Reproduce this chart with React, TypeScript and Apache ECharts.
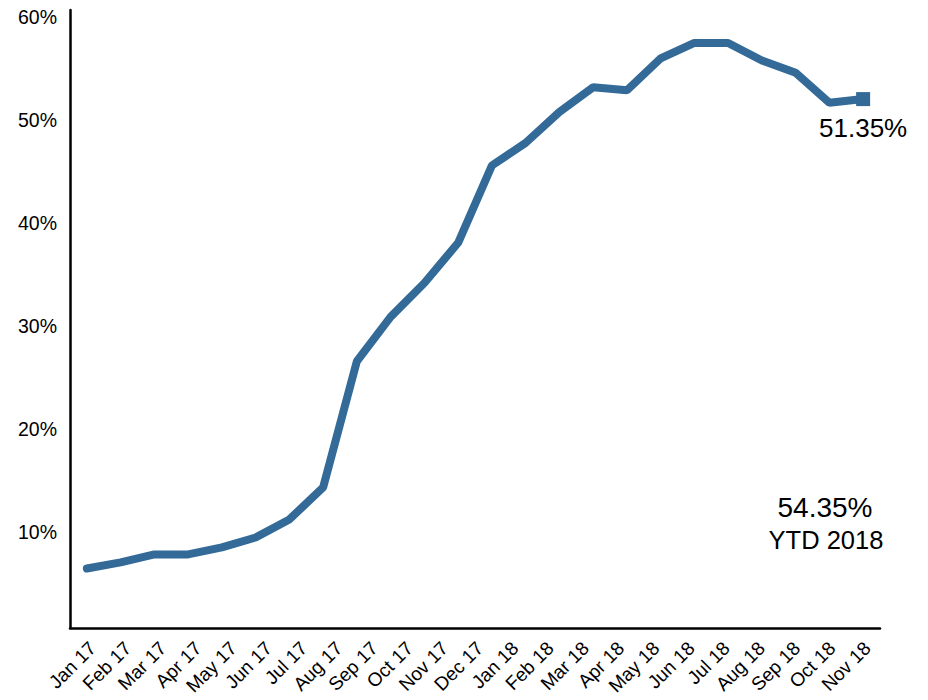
import React, { useEffect, useRef } from "react";
import * as echarts from "echarts";

const tickLabels = [
  "Jan 17", "Feb 17", "Mar 17", "Apr 17", "May 17", "Jun 17", "Jul 17", "Aug 17",
  "Sep 17", "Oct 17", "Nov 17", "Dec 17", "Jan 18", "Feb 18", "Mar 18", "Apr 18",
  "May 18", "Jun 18", "Jul 18", "Aug 18", "Sep 18", "Oct 18", "Nov 18",
];

const pointCategories = [
  "P1", "P2", "P3", "P4", "P5", "P6", "P7", "P8", "P9", "P10", "P11", "P12",
  "P13", "P14", "P15", "P16", "P17", "P18", "P19", "P20", "P21", "P22", "P23", "P24",
];

const shareValues = [
  5.78, 6.37, 7.14, 7.14, 7.82, 8.79, 10.54, 13.65, 25.9, 30.2, 33.5, 37.4,
  44.9, 47.1, 50.1, 52.5, 52.2, 55.3, 56.8, 56.8, 55.1, 53.9, 51.0, 51.35,
];

const lastLabel = "51.35%";
const ytdValue = "54.35%";
const ytdLabel = "YTD 2018";

const FONT = '"Liberation Sans", Arial, sans-serif';
const LINE_COLOR = "#336a98";

export default function App() {
  const ref = useRef<HTMLDivElement>(null);

  useEffect(() => {
    if (!ref.current) return;
    const chart = echarts.init(ref.current, undefined, { renderer: "svg" });
    const lastIdx = shareValues.length - 1;
    const data = shareValues.map((v, i) =>
      i === lastIdx
        ? {
            value: v,
            symbol: "rect",
            symbolSize: 14,
            label: {
              show: true,
              position: "bottom",
              distance: 9,
              formatter: lastLabel,
              fontSize: 26,
              color: "#000",
              fontFamily: FONT,
            },
          }
        : { value: v }
    );

    chart.setOption({
      animation: false,
      backgroundColor: "#fff",
      grid: { left: 70, right: 48, top: 10, bottom: 72, containLabel: false },
      xAxis: [
        {
          type: "category",
          data: pointCategories,
          boundaryGap: true,
          position: "bottom",
          axisLine: { show: true, lineStyle: { color: "#000", width: 2.5 } },
          axisTick: { show: false },
          axisLabel: { show: false },
          splitLine: { show: false },
        },
        {
          type: "category",
          data: tickLabels,
          boundaryGap: true,
          position: "bottom",
          axisLine: { show: false },
          axisTick: { show: false },
          axisLabel: {
            show: true,
            interval: 0,
            rotate: 45,
            margin: 12,
            fontSize: 19,
            color: "#000",
            fontFamily: FONT,
            verticalAlign: "top",
            lineHeight: 14,
          },
          splitLine: { show: false },
        },
      ],
      yAxis: {
        type: "value",
        min: 0,
        max: 60,
        interval: 10,
        axisLine: { show: true, lineStyle: { color: "#000", width: 2.5 } },
        axisTick: { show: false },
        splitLine: { show: false },
        axisLabel: {
          margin: 13,
          fontSize: 19.5,
          color: "#000",
          fontFamily: FONT,
          verticalAlign: "top",
          lineHeight: 14,
          formatter: (v: number) => (v === 0 ? "" : v + "%"),
        },
      },
      series: [
        {
          type: "line",
          xAxisIndex: 0,
          data,
          symbol: "none",
          showSymbol: true,
          itemStyle: { color: LINE_COLOR },
          lineStyle: { color: LINE_COLOR, width: 8, cap: "round", join: "bevel" },
        },
      ],
      graphic: [
        {
          type: "text",
          x: 825,
          y: 507,
          style: {
            text: ytdValue,
            fontSize: 28,
            fill: "#000",
            fontFamily: FONT,
            align: "center",
            verticalAlign: "middle",
          },
        },
        {
          type: "text",
          x: 826,
          y: 540,
          style: {
            text: ytdLabel,
            fontSize: 25.5,
            fill: "#000",
            fontFamily: FONT,
            align: "center",
            verticalAlign: "middle",
          },
        },
      ],
    });
    return () => chart.dispose();
  }, []);

  return (
    <div
      ref={ref}
      style={{ position: "fixed", left: 0, top: 0, width: 928, height: 700 }}
    />
  );
}
